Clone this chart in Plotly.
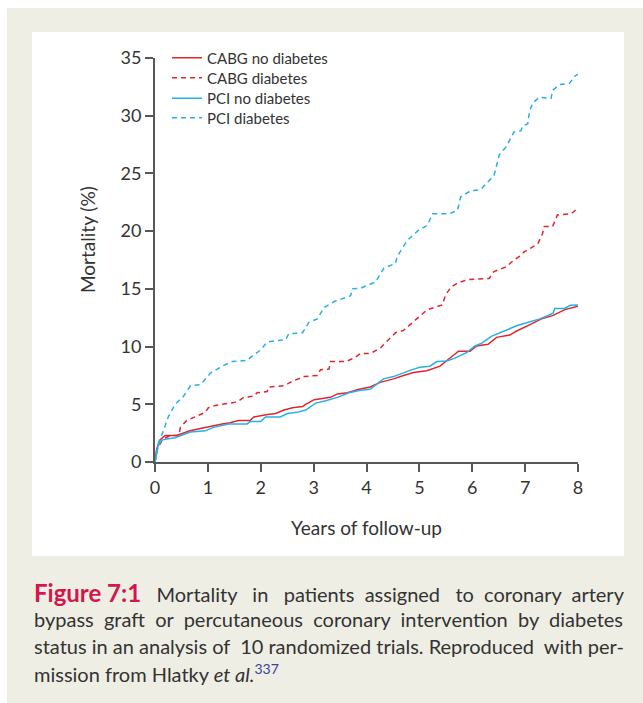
import plotly.graph_objects as go

# ---------------- data ----------------
cabg_nd_t = [0, 0.03, 0.09, 0.19, 0.41, 0.66, 0.86, 1.05, 1.27, 1.42, 1.58, 1.80, 1.87, 2.1, 2.28,
             2.44, 2.6, 2.79, 2.85, 3.01, 3.13, 3.32, 3.45, 3.64, 3.86, 4.07, 4.26, 4.51, 4.70,
             4.89, 5.14, 5.39, 5.55, 5.74, 5.96, 6.08, 6.3, 6.46, 6.71, 6.84, 7.09, 7.31, 7.53,
             7.75, 8.0]
cabg_nd_v = [0, 1.1, 1.9, 2.3, 2.3, 2.7, 2.9, 3.1, 3.3, 3.4, 3.6, 3.6, 3.9, 4.1, 4.2,
             4.5, 4.7, 4.8, 5.0, 5.4, 5.5, 5.6, 5.9, 6.0, 6.3, 6.5, 6.9, 7.2, 7.5,
             7.75, 7.9, 8.3, 8.9, 9.6, 9.6, 10.05, 10.2, 10.8, 11.0, 11.35, 11.9, 12.4, 12.7,
             13.2, 13.5]

cabg_d_t = [0, 0.05, 0.15, 0.3, 0.45, 0.48, 0.6, 0.79, 0.95, 1.01, 1.14, 1.55, 1.68, 1.87, 1.93,
            2.12, 2.15, 2.44, 2.6, 2.82, 3.07, 3.13, 3.29, 3.32, 3.61, 3.76, 3.89, 4.08, 4.27,
            4.33, 4.55, 4.7, 4.83, 5.06, 5.15, 5.43, 5.5, 5.59, 5.72, 5.91, 6.32, 6.41, 6.64,
            6.79, 6.92, 6.98, 7.14, 7.24, 7.33, 7.36, 7.52, 7.61, 7.87, 8.0]
cabg_d_v = [0, 1.2, 2.0, 2.3, 2.3, 3.0, 3.6, 4.0, 4.3, 4.7, 4.9, 5.2, 5.6, 5.7, 6.0,
            6.1, 6.5, 6.6, 7.0, 7.4, 7.5, 8.0, 8.05, 8.7, 8.7, 9.0, 9.4, 9.4, 9.9,
            10.2, 11.2, 11.4, 11.9, 12.8, 13.2, 13.6, 14.5, 15.1, 15.5, 15.8, 15.9, 16.5, 16.9,
            17.5, 17.9, 18.2, 18.6, 18.9, 19.8, 20.4, 20.4, 21.4, 21.5, 22.0]

pci_nd_t = [0, 0.06, 0.13, 0.22, 0.38, 0.54, 0.67, 0.95, 1.11, 1.39, 1.74, 1.8, 2.0, 2.09, 2.37,
            2.5, 2.69, 2.85, 3.04, 3.23, 3.45, 3.67, 3.86, 4.07, 4.32, 4.51, 4.70, 4.85, 5.01,
            5.2, 5.33, 5.52, 5.67, 5.9, 6.05, 6.18, 6.37, 6.59, 6.84, 7.03, 7.28, 7.53, 7.56,
            7.75, 7.85, 8.0]
pci_nd_v = [0, 1.4, 1.9, 2.0, 2.1, 2.4, 2.6, 2.7, 3.0, 3.3, 3.3, 3.5, 3.5, 3.9, 3.9,
            4.2, 4.3, 4.5, 5.1, 5.3, 5.6, 6.0, 6.2, 6.3, 7.2, 7.4, 7.75, 7.98, 8.2,
            8.3, 8.7, 8.75, 9.0, 9.5, 10.05, 10.3, 10.9, 11.35, 11.8, 12.07, 12.4, 12.9, 13.3,
            13.3, 13.57, 13.6]

pci_d_t = [0, 0.06, 0.16, 0.25, 0.38, 0.54, 0.67, 0.86, 1.05, 1.27, 1.46, 1.74, 1.87, 2.0, 2.12,
           2.47, 2.53, 2.79, 2.91, 3.07, 3.2, 3.39, 3.7, 3.73, 3.89, 4.17, 4.33, 4.55, 4.58,
           4.77, 4.99, 5.15, 5.25, 5.56, 5.72, 5.78, 5.97, 6.16, 6.26, 6.41, 6.45, 6.51, 6.64,
           6.76, 6.79, 6.92, 6.95, 7.05, 7.08, 7.14, 7.27, 7.49, 7.52, 7.65, 7.84, 7.93, 8.0]
pci_d_v = [0, 1.6, 2.7, 3.9, 5.0, 5.7, 6.6, 6.7, 7.7, 8.3, 8.7, 8.8, 9.3, 9.7, 10.4,
           10.6, 11.1, 11.2, 12.1, 12.4, 13.4, 13.9, 14.4, 15.0, 15.06, 15.6, 16.8, 17.2, 17.8,
           19.2, 20.1, 20.5, 21.5, 21.5, 21.8, 22.96, 23.5, 23.6, 24.1, 24.8, 25.5, 26.6, 27.3,
           28.3, 28.6, 28.7, 29.1, 29.3, 30.3, 31.1, 31.6, 31.5, 32.2, 32.7, 32.8, 33.4, 33.6]

series_names = ["CABG no diabetes", "CABG diabetes", "PCI no diabetes", "PCI diabetes"]
x_ticks = [0, 1, 2, 3, 4, 5, 6, 7, 8]
y_ticks = [0, 5, 10, 15, 20, 25, 30, 35]
x_title = "Years of follow-up"
y_title = "Mortality (%)"

# caption: lists of words per line (justified by padding gaps with non-breaking spaces)
caption_words = [
    ["Mortality", "in", "patients", "assigned", "to", "coronary", "artery"],
    ["bypass", "graft", "or", "percutaneous", "coronary", "intervention", "by", "diabetes"],
    ["status", "in", "an", "analysis", "of", "10", "randomized", "trials.", "Reproduced", "with", "per-"],
    ["mission", "from", "Hlatky", "<i>et", "al.</i><sup><span style='color:#3b3f9e'>337</span></sup>"],
]
caption_gaps = [  # number of spaces in each gap
    [3, 3, 2, 3, 2, 2],
    [2, 2, 2, 2, 2, 2, 2],
    [1, 1, 1, 1, 2, 1, 1, 1, 2, 1],
    [1, 1, 1, 1],
]
fig_label = "Figure 7:1"

# ---------------- styling ----------------
RED = "#e2242b"
BLUE = "#27b0e6"
AXIS = "#585858"
TEXT = "#333333"
BEIGE = "#efeee4"
FONT = "Lato"
NBSP = "\u00a0"

W, H = 643, 703
L, R, T, B = 155, 65, 58, 241
PW, PH = W - L - R, H - T - B


def px(xp):
    return (xp - L) / PW


def py(yp):
    return (H - B - yp) / PH


fig = go.Figure()
traces = [
    (cabg_nd_t, cabg_nd_v, RED, "solid"),
    (cabg_d_t, cabg_d_v, RED, "5px,4px"),
    (pci_nd_t, pci_nd_v, BLUE, "solid"),
    (pci_d_t, pci_d_v, BLUE, "5px,4px"),
]
legend_ids = ["legend", "legend2", "legend3", "legend4"]
legend_rows = [58, 78, 98.5, 118]
for name, (t, v, c, d), lid in zip(series_names, traces, legend_ids):
    fig.add_trace(go.Scatter(x=t, y=v, mode="lines", name=name, legend=lid,
                             line=dict(color=c, width=1.5, dash=d)))

shapes = [
    dict(type="rect", xref="paper", yref="paper", x0=px(7), x1=px(643), y0=py(8), y1=py(703),
         fillcolor=BEIGE, line=dict(width=0), layer="below"),
    dict(type="rect", xref="paper", yref="paper", x0=px(32), x1=px(624), y0=py(32), y1=py(556),
         fillcolor="white", line=dict(width=0), layer="below"),
]

annotations = []
for i, (words, gaps) in enumerate(zip(caption_words, caption_gaps)):
    line = words[0]
    for g, w in zip(gaps, words[1:]):
        line += NBSP * g + w
    if i == 0:
        line = ("<span style='color:#d3174c;font-size:24px'><b>" + fig_label + "</b></span>"
                + NBSP * 3 + line)
    annotations.append(dict(xref="paper", yref="paper", x=px(32), y=py(592 + 27 * i),
                            xanchor="left", yanchor="middle", showarrow=False, align="left",
                            text=line, font=dict(family=FONT, size=20, color=TEXT)))

annotations.append(dict(xref="paper", yref="paper", x=px(88), y=py(240), textangle=-90,
                        xanchor="center", yanchor="middle", showarrow=False, text=y_title,
                        font=dict(family=FONT, size=19, color=TEXT)))

legend_layout = {}
for lid, row in zip(legend_ids, legend_rows):
    legend_layout[lid] = dict(x=px(167), y=py(row), xanchor="left", yanchor="middle",
                              bgcolor="rgba(0,0,0,0)", borderwidth=0,
                              font=dict(family=FONT, size=15, color=TEXT))

fig.update_layout(
    width=W, height=H, autosize=False,
    margin=dict(l=L, r=R, t=T, b=B, pad=0),
    paper_bgcolor="white", plot_bgcolor="rgba(0,0,0,0)",
    shapes=shapes, annotations=annotations,
    showlegend=True,
    font=dict(family=FONT, color=TEXT),
    **legend_layout,
)
fig.update_xaxes(range=[0, 8], tickvals=x_ticks, ticks="outside", ticklen=8, tickwidth=2,
                 tickcolor=AXIS, showline=True, linecolor=AXIS, linewidth=2, showgrid=False,
                 zeroline=False, tickfont=dict(family=FONT, size=18, color=TEXT),
                 title=dict(text=x_title, standoff=25,
                            font=dict(family=FONT, size=19, color=TEXT)))
fig.update_yaxes(range=[0, 35], tickvals=y_ticks, ticks="outside", ticklen=8, tickwidth=2,
                 tickcolor=AXIS, showline=True, linecolor=AXIS, linewidth=2, showgrid=False,
                 zeroline=False, tickfont=dict(family=FONT, size=18, color=TEXT))

fig.write_html("out.html", config={"displayModeBar": False},
               post_script="document.body.style.margin='0';document.body.style.overflow='hidden';")
